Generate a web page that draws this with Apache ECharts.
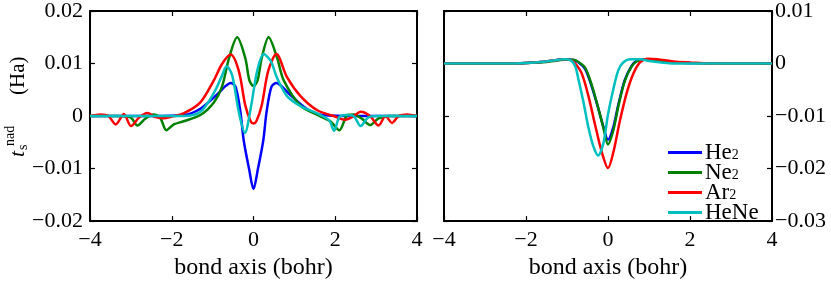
<!DOCTYPE html>
<html><head><meta charset="utf-8">
<script src="https://cdn.jsdelivr.net/npm/echarts@6/dist/echarts.min.js"></script>
<style>html,body{margin:0;padding:0;background:#fff}#c{width:831px;height:285px}</style>
</head><body><div id="c"></div>
<script>
// ---------- data ----------
const seriesNames = ['He2', 'Ne2', 'Ar2', 'HeNe'];
const legendLabels = ['He{sub|2}', 'Ne{sub|2}', 'Ar{sub|2}', 'HeNe'];
const colors = ['#0000ff', '#008000', '#ff0000', '#00bfbf'];
const xTicks = [-4, -2, 0, 2, 4];
const leftYTicks = [-0.02, -0.01, 0, 0.01, 0.02];
const rightYTicks = [-0.03, -0.02, -0.01, 0, 0.01];
const xLabel = 'bond axis (bohr)';

// left panel
const leftHe2X = [-4, -2.5, -1.7, -1.3, -0.89, -0.7, -0.56, -0.44, -0.32, -0.24, -0.11, 0, 0.11, 0.24, 0.32, 0.44, 0.56, 0.7, 0.89, 1.3, 1.7, 2.5, 4];
const leftHe2Y = [0, 0, 0.0002, 0.0014, 0.0041, 0.0056, 0.0063, 0.0056, 0.0008, -0.0046, -0.0100, -0.0139, -0.0100, -0.0046, 0.0008, 0.0056, 0.0063, 0.0056, 0.0041, 0.0014, 0.0002, 0, 0];

const leftNe2X = [-4, -3.3, -3.0, -2.84, -2.65, -2.45, -2.28, -2.13, -1.95, -1.71, -1.3, -0.97, -0.77, -0.6, -0.4, -0.2, -0.1, 0, 0.1, 0.2, 0.37, 0.58, 0.74, 1.15, 1.56, 1.88, 2.1, 2.3, 2.45, 2.65, 2.85, 3.05, 3.3, 4];
const leftNe2Y = [0, 0, -0.0003, -0.0018, -0.0005, 0.0003, -0.0004, -0.0027, -0.0016, -0.001, 0.0002, 0.0026, 0.0056, 0.011, 0.015, 0.011, 0.0068, 0.0057, 0.0068, 0.011, 0.015, 0.011, 0.0068, 0.002, 0.0002, -0.001, -0.0027, 0.0002, 0.0003, -0.0005, -0.0017, -0.0005, 0, 0];

const leftAr2X = [-4, -3.74, -3.55, -3.37, -3.17, -3.0, -2.8, -2.6, -2.4, -2.2, -2.0, -1.71, -1.3, -0.97, -0.77, -0.56, -0.36, -0.2, -0.07, 0, 0.07, 0.2, 0.36, 0.56, 0.82, 1.15, 1.56, 1.96, 2.25, 2.45, 2.62, 2.85, 3.06, 3.23, 3.39, 3.55, 3.76, 4];
const leftAr2Y = [0, 0.0003, 0, -0.0016, 0.0004, -0.0019, -0.0003, 0.0006, -0.0002, -0.0004, -0.0001, 0.0005, 0.0026, 0.0068, 0.0099, 0.0117, 0.0086, 0.002, -0.001, -0.0014, -0.001, 0.002, 0.0086, 0.0118, 0.0074, 0.0038, 0.0011, 0, -0.0007, 0, 0.0008, 0, -0.0018, 0, -0.0013, 0, 0.0003, 0];

const leftHeNeX = [-4, -2.5, -1.71, -1.3, -0.97, -0.77, -0.66, -0.52, -0.36, -0.21, -0.07, 0.09, 0.25, 0.42, 0.58, 0.82, 1.15, 1.56, 1.85, 1.97, 2.1, 2.25, 2.45, 2.62, 2.8, 3.0, 4];
const leftHeNeY = [0, 0, 0, 0.0008, 0.0044, 0.0077, 0.0095, 0.0077, 0.0008, -0.0032, 0.0014, 0.0086, 0.0118, 0.0105, 0.0072, 0.0038, 0.0019, 0.0005, -0.0008, -0.0028, -0.0002, 0.0002, 0, -0.0019, -0.0003, 0, 0];

// right panel
const rightHe2X = [-4, -2.5, -2, -1.5, -1.05, -0.85, -0.72, -0.56, -0.40, -0.24, -0.11, 0, 0.13, 0.25, 0.41, 0.58, 0.7, 0.9, 1.1, 1.5, 2, 4];
const rightHe2Y = [0, 0, 0.0001, 0.0004, 0.0008, 0.0007, 0.0002, -0.001, -0.0043, -0.0085, -0.0121, -0.0145, -0.0121, -0.0079, -0.0031, -0.0004, 0.0005, 0.0008, 0.0007, 0.0003, 0.0001, 0];

const rightNe2X = [-4, -2.5, -2, -1.5, -1.05, -0.85, -0.72, -0.56, -0.40, -0.24, -0.11, 0, 0.13, 0.25, 0.41, 0.58, 0.7, 0.9, 1.1, 1.5, 2, 4];
const rightNe2Y = [0, 0, 0.0001, 0.0003, 0.0007, 0.0007, 0.0003, -0.0008, -0.004, -0.0084, -0.0123, -0.0154, -0.0127, -0.0082, -0.0033, -0.0005, 0.0004, 0.0007, 0.0006, 0.0003, 0.0001, 0];

const rightAr2X = [-4, -2.5, -2, -1.5, -1.05, -0.9, -0.8, -0.64, -0.48, -0.32, -0.15, 0, 0.13, 0.29, 0.46, 0.62, 0.78, 0.98, 1.2, 1.6, 2, 2.5, 4];
const rightAr2Y = [0, 0, 0.0001, 0.0004, 0.0008, 0.0006, 0, -0.0019, -0.0061, -0.0115, -0.0169, -0.0199, -0.0169, -0.0109, -0.0055, -0.0019, 0.0002, 0.0009, 0.0008, 0.0004, 0.0002, 0, 0];

const rightHeNeX = [-4, -2.5, -2, -1.5, -1.05, -0.93, -0.8, -0.72, -0.6, -0.48, -0.36, -0.24, -0.11, 0, 0.13, 0.25, 0.37, 0.54, 0.78, 1.0, 1.3, 1.6, 4];
const rightHeNeY = [0, 0, 0.0001, 0.0004, 0.0008, 0.0007, -0.0005, -0.0031, -0.0073, -0.0121, -0.0157, -0.0175, -0.0151, -0.0097, -0.0049, -0.0013, 0.0002, 0.0008, 0.0008, 0.0005, 0.0002, 0, 0];

// ---------- chart ----------
const FONT = 'Liberation Serif';
const zip = (xs, ys) => xs.map((x, i) => [x, ys[i]]);
const leftData = [zip(leftHe2X, leftHe2Y), zip(leftNe2X, leftNe2Y), zip(leftAr2X, leftAr2Y), zip(leftHeNeX, leftHeNeY)];
const rightData = [zip(rightHe2X, rightHe2Y), zip(rightNe2X, rightNe2Y), zip(rightAr2X, rightAr2Y), zip(rightHeNeX, rightHeNeY)];

const fmtY = v => Math.abs(v) < 1e-9 ? '0' : (v < 0 ? '\u2212' : '') + Math.abs(v).toFixed(2);
const fmtX = v => (v < 0 ? '\u2212' : '') + Math.abs(v);

const lineAx = {show: true, onZero: false, lineStyle: {color: '#000', width: 2}};
const tickAx = {show: true, inside: true, length: 5, lineStyle: {color: '#000', width: 1.2}};
const lblStyle = {fontFamily: FONT, fontSize: 22, color: '#000'};

function xAxis(grid, bottom) {
  return {
    type: 'value', gridIndex: grid, min: xTicks[0], max: xTicks[xTicks.length - 1],
    interval: xTicks[1] - xTicks[0], position: bottom ? 'bottom' : 'top',
    axisLine: lineAx, axisTick: tickAx, splitLine: {show: false},
    axisLabel: Object.assign({show: bottom, margin: 8, formatter: fmtX}, lblStyle),
    name: bottom ? xLabel : '', nameLocation: 'middle', nameGap: 25,
    nameTextStyle: {fontFamily: FONT, fontSize: 24, color: '#000'}
  };
}
function yAxis(grid, ticks, pos, labels, margin) {
  return {
    type: 'value', gridIndex: grid, min: ticks[0], max: ticks[ticks.length - 1],
    interval: 0.01, position: pos,
    axisLine: lineAx, axisTick: tickAx, splitLine: {show: false},
    axisLabel: Object.assign({show: labels, margin: margin, formatter: fmtY}, lblStyle)
  };
}

const series = [];
seriesNames.forEach((n, i) => {
  series.push({
    name: n, type: 'line', xAxisIndex: 0, yAxisIndex: 0, data: leftData[i],
    showSymbol: false, symbol: 'none', smooth: 0.3, clip: true,
    itemStyle: {color: colors[i]}, lineStyle: {color: colors[i], width: 2.5},
    emphasis: {disabled: true}
  });
});
seriesNames.forEach((n, i) => {
  series.push({
    name: n, type: 'line', xAxisIndex: 2, yAxisIndex: 3, data: rightData[i],
    showSymbol: false, symbol: 'none', smooth: 0.3, clip: true,
    itemStyle: {color: colors[i]}, lineStyle: {color: colors[i], width: 2.5},
    emphasis: {disabled: true}
  });
});

const txt = (text, lx, ly, size, italic) => ({
  type: 'text', x: lx, y: ly,
  style: {text: text, fill: '#000', font: (italic ? 'italic ' : '') + size + 'px "' + FONT + '"',
    align: 'left', verticalAlign: 'middle', textAlign: 'left', textVerticalAlign: 'middle'}
});

const option = {
  animation: false,
  backgroundColor: '#fff',
  grid: [
    {left: 90, top: 7, width: 327, height: 222},
    {left: 444, top: 7, width: 328, height: 222}
  ],
  xAxis: [xAxis(0, true), xAxis(0, false), xAxis(1, true), xAxis(1, false)],
  yAxis: [
    yAxis(0, leftYTicks, 'left', true, 7),
    yAxis(0, leftYTicks, 'right', false, 7),
    yAxis(1, rightYTicks, 'left', false, 3),
    yAxis(1, rightYTicks, 'right', true, 3)
  ],
  legend: {
    data: seriesNames, orient: 'vertical', left: 668, top: 141, padding: 0,
    itemWidth: 34, itemHeight: 3, itemGap: -3, icon: 'rect', selectedMode: false,
    formatter: name => legendLabels[seriesNames.indexOf(name)],
    textStyle: {fontFamily: FONT, fontSize: 23, color: '#000', lineHeight: 20, padding: [0, 0, 0, -2],
      rich: {sub: {fontFamily: FONT, fontSize: 14, color: '#000', lineHeight: 6, verticalAlign: 'bottom'}}}
  },
  graphic: [{
    type: 'group', x: 18, y: 157, rotation: Math.PI / 2,
    children: [
      txt('t', 0, 0, 22, true),
      txt('s', 7, 5.5, 14, false),
      txt('nad', 11, -7.5, 14, false),
      txt('(Ha)', 62, 0, 21, false)
    ]
  }],
  series: series
};

const chart = echarts.init(document.getElementById('c'), null, {renderer: 'canvas'});
chart.setOption(option);
</script></body></html>
